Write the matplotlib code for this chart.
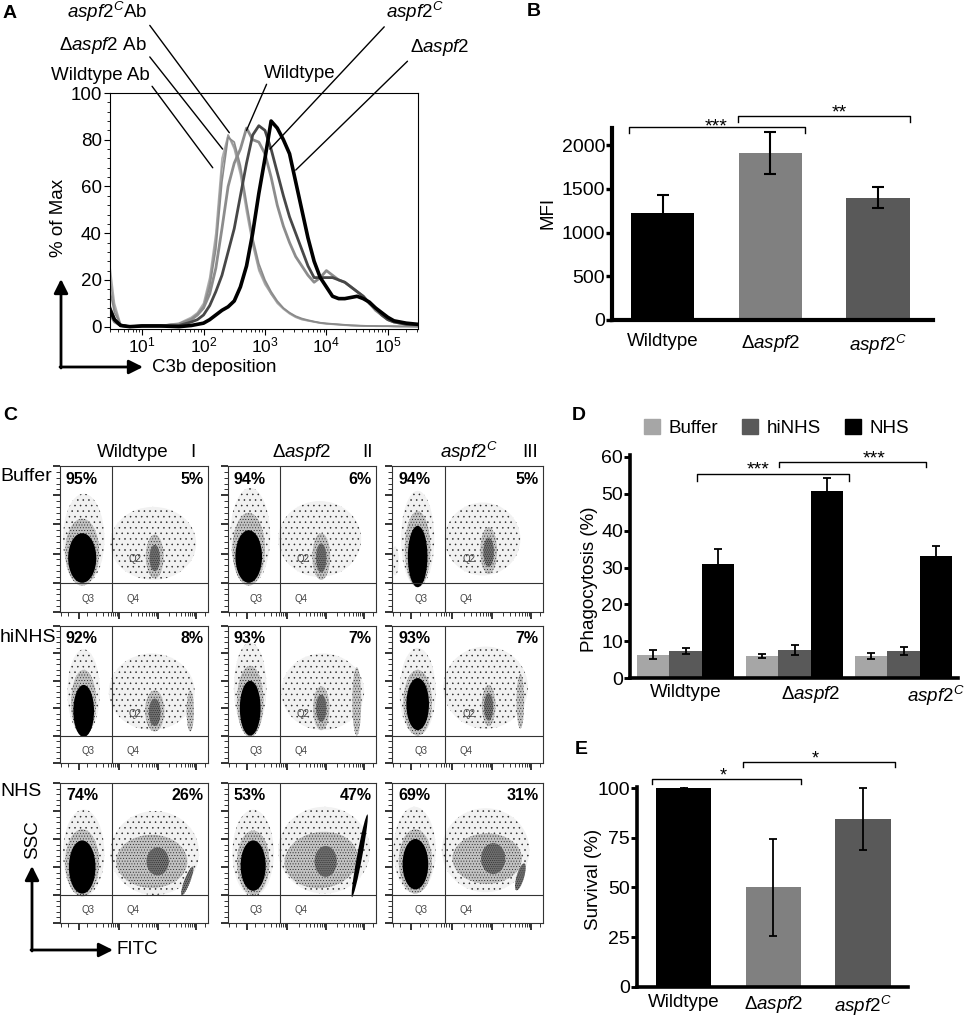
import matplotlib
matplotlib.use("Agg")
import matplotlib.pyplot as plt
import numpy as np
from matplotlib.patches import Ellipse, Patch
from matplotlib.ticker import MultipleLocator, LogLocator, FixedLocator, NullFormatter

W, H = 965, 1019

plt.rcParams["font.family"] = ["Liberation Sans", "DejaVu Sans"]
plt.rcParams["mathtext.fontset"] = "custom"
plt.rcParams["mathtext.rm"] = "Liberation Sans"
plt.rcParams["mathtext.it"] = "Liberation Sans:italic"
plt.rcParams["mathtext.bf"] = "Liberation Sans:bold"
plt.rcParams["hatch.linewidth"] = 0.35

DELTA = r"$\Delta\mathit{aspf2}$"
COMP = r"$\mathit{aspf2}^{\mathit{C}}$"
STRAINS = ["Wildtype", DELTA, COMP]

# ---- panel A: C3b deposition histograms (% of max vs log10 intensity)
A_LOGX = [0.48, 0.55, 0.65, 0.8, 1.0, 1.3, 1.6, 1.8, 1.9,
          2.0, 2.1, 2.2, 2.3, 2.4, 2.5, 2.6, 2.7, 2.8, 2.9,
          3.0, 3.1, 3.2, 3.3, 3.4, 3.5, 3.6, 3.7, 3.8, 3.9,
          4.0, 4.1, 4.2, 4.3, 4.4, 4.5, 4.6, 4.7, 4.8, 4.9,
          5.0, 5.1, 5.2, 5.3, 5.49]
A_WT_AB = [25, 10, 1, 0, 0.5, 0.5, 1.5, 4, 6,
           10, 21, 40, 72, 82, 76, 65, 49, 35, 24,
           18, 14, 10, 7.5, 5.5, 4, 3, 2.5, 2, 1.5,
           1.2, 1, 0.8, 0.6, 0.5, 0.4, 0.3, 0.3, 0.2, 0.2,
           0.2, 0.1, 0.1, 0.1, 0]
A_DA_AB = [15, 6, 1, 0, 0.5, 0.5, 1.2, 3, 5,
           8, 17, 33, 62, 81, 79, 69, 53, 38, 27,
           20, 15, 11, 8, 6, 4.5, 3.5, 2.8, 2.2, 1.7,
           1.4, 1.2, 1, 0.8, 0.6, 0.5, 0.4, 0.3, 0.3, 0.2,
           0.2, 0.2, 0.1, 0.1, 0]
A_C_AB = [20, 8, 1, 0, 0.5, 0.5, 1.3, 3.5, 5.5,
          9, 19, 37, 68, 82, 77, 67, 51, 36, 25,
          19, 14, 10.5, 7.8, 5.8, 4.2, 3.2, 2.6, 2.1, 1.6,
          1.3, 1.1, 0.9, 0.7, 0.5, 0.4, 0.3, 0.3, 0.2, 0.2,
          0.2, 0.1, 0.1, 0.1, 0]
A_WT = [5, 2, 0.5, 0, 0.3, 0.3, 1, 3, 5,
        8, 14, 25, 42, 60, 70, 76, 85, 80, 79,
        74, 64, 52, 43, 36, 30, 26, 22, 19, 21,
        24, 22, 20, 19, 17, 15, 13, 10, 7, 5,
        3, 2, 1.5, 1, 0.8]
A_C = [8, 3, 0.5, 0, 0.3, 0.3, 0.5, 2, 3,
       5, 9, 15, 22, 32, 42, 56, 70, 82, 86,
       84, 76, 66, 56, 47, 40, 33, 26, 21, 21,
       21, 21, 20, 19, 17, 15, 13, 10, 8, 5,
       3, 2, 1.5, 1, 0.8]
A_DA = [7, 3, 0.5, 0, 0.3, 0.3, 0, 0.5, 1,
        1.5, 3, 5, 7, 8.5, 11, 17, 26, 40, 57,
        72, 88, 85, 80, 74, 62, 50, 38, 28, 21,
        17, 13, 12, 12, 12.5, 13, 12, 10.5, 8, 6,
        4, 2.5, 2, 1.5, 1]
A_LABELS = [COMP + "Ab", DELTA + " Ab", "Wildtype Ab", "Wildtype", COMP, DELTA]
# where each leader line touches the plot (log10 x, % of max)
A_LABEL_LOGX = [2.42, 2.31, 2.15, 2.70, 3.08, 3.50]
A_LABEL_Y = [83, 76, 68, 84, 76, 67]

# ---- panel B: MFI
B_MFI = [1220, 1910, 1400]
B_ERR = [210, 240, 125]

# ---- panel C: flow plots, percentages per row (Buffer, hiNHS, NHS) and column
C_ROWS = ["Buffer", "hiNHS", "NHS"]
C_COL_NUM = ["I", "II", "III"]
C_PCT_LEFT = [[95, 94, 94], [92, 93, 93], [74, 53, 69]]
C_PCT_RIGHT = [[5, 6, 5], [8, 7, 7], [26, 47, 31]]
# event clouds: (x, y, width, height, tilt, density 1..4) in gate-fraction units
BUF_WT = [(0.16, 0.50, 0.28, 0.62, 0, 1), (0.15, 0.41, 0.23, 0.46, 0, 2),
          (0.15, 0.37, 0.19, 0.34, 0, 4), (0.63, 0.47, 0.58, 0.50, 0, 1),
          (0.64, 0.38, 0.12, 0.30, 0, 2), (0.64, 0.37, 0.07, 0.18, 0, 3)]
BUF_DA = [(0.15, 0.52, 0.27, 0.66, 0, 1), (0.14, 0.43, 0.22, 0.50, 0, 2),
          (0.14, 0.38, 0.18, 0.36, 0, 4), (0.62, 0.50, 0.56, 0.52, 0, 1),
          (0.63, 0.38, 0.12, 0.32, 0, 2), (0.63, 0.37, 0.07, 0.20, 0, 3)]
BUF_C = [(0.17, 0.50, 0.22, 0.66, 0, 1), (0.17, 0.43, 0.17, 0.52, 0, 2),
         (0.17, 0.38, 0.13, 0.42, 0, 4), (0.02, 0.35, 0.05, 0.20, 0, 1),
         (0.60, 0.50, 0.50, 0.50, 0, 1), (0.64, 0.42, 0.11, 0.32, 0, 2),
         (0.64, 0.41, 0.07, 0.20, 0, 3)]
HI_WT = [(0.16, 0.52, 0.22, 0.62, 0, 1), (0.16, 0.44, 0.17, 0.48, 0, 2),
         (0.16, 0.38, 0.14, 0.38, 0, 4), (0.62, 0.52, 0.58, 0.56, 0, 1),
         (0.64, 0.38, 0.13, 0.30, 0, 2), (0.64, 0.37, 0.08, 0.20, 0, 3),
         (0.88, 0.38, 0.05, 0.30, 0, 2)]
HI_DA = [(0.15, 0.55, 0.22, 0.66, 0, 1), (0.15, 0.45, 0.18, 0.52, 0, 2),
         (0.15, 0.40, 0.14, 0.40, 0, 4), (0.64, 0.52, 0.56, 0.56, 0, 1),
         (0.63, 0.40, 0.11, 0.32, 0, 2), (0.63, 0.40, 0.07, 0.20, 0, 3),
         (0.87, 0.45, 0.06, 0.50, 0, 2)]
HI_C = [(0.17, 0.52, 0.24, 0.64, 0, 1), (0.17, 0.44, 0.19, 0.48, 0, 2),
        (0.17, 0.43, 0.15, 0.38, 0, 4), (0.62, 0.55, 0.56, 0.60, 0, 1),
        (0.64, 0.42, 0.09, 0.30, 0, 2), (0.64, 0.41, 0.06, 0.20, 0, 3),
        (0.85, 0.45, 0.05, 0.40, 0, 2)]
NHS_WT = [(0.16, 0.50, 0.28, 0.62, 0, 1), (0.15, 0.43, 0.23, 0.48, 0, 2),
          (0.15, 0.40, 0.18, 0.38, 0, 4), (0.64, 0.50, 0.60, 0.60, 0, 1),
          (0.62, 0.44, 0.48, 0.38, 0, 2), (0.66, 0.44, 0.15, 0.20, 0, 3),
          (0.86, 0.30, 0.04, 0.22, -20, 3)]
NHS_DA = [(0.17, 0.50, 0.28, 0.62, 0, 1), (0.17, 0.43, 0.22, 0.46, 0, 2),
          (0.17, 0.41, 0.17, 0.36, 0, 4), (0.65, 0.52, 0.62, 0.62, 0, 1),
          (0.63, 0.45, 0.50, 0.40, 10, 2), (0.66, 0.44, 0.15, 0.22, 0, 3),
          (0.89, 0.48, 0.035, 0.60, -10, 4)]
NHS_C = [(0.15, 0.52, 0.28, 0.62, 0, 1), (0.155, 0.44, 0.22, 0.46, 0, 2),
         (0.155, 0.42, 0.17, 0.36, 0, 4), (0.62, 0.52, 0.58, 0.60, 0, 1),
         (0.63, 0.46, 0.46, 0.36, 0, 2), (0.67, 0.46, 0.16, 0.22, 0, 3),
         (0.85, 0.33, 0.05, 0.20, -15, 3)]
C_CLOUDS = [[BUF_WT, BUF_DA, BUF_C], [HI_WT, HI_DA, HI_C], [NHS_WT, NHS_DA, NHS_C]]

# ---- panel D: phagocytosis (%)
D_GROUPS = ["Buffer", "hiNHS", "NHS"]
D_BUFFER = [6.4, 6.0, 6.0]
D_BUFFER_ERR = [1.2, 0.6, 0.9]
D_HINHS = [7.3, 7.7, 7.4]
D_HINHS_ERR = [0.8, 1.3, 1.0]
D_NHS = [31.0, 50.7, 33.2]
D_NHS_ERR = [3.9, 3.5, 2.6]

# ---- panel E: survival (%)
E_SURV = [100, 50, 84.5]
E_ERR = [0.3, 24.6, 15.5]

BAR3 = ["#000000", "#808080", "#595959"]
FS = 13.5


def px_axes(fig, l, t, r, b):
    return fig.add_axes([l / W, 1 - b / H, (r - l) / W, (b - t) / H])


def fpx(x, y):
    return (x / W, 1 - y / H)


def bar_style(ax, lw=3.0):
    for s in ("top", "right"):
        ax.spines[s].set_visible(False)
    for s in ("left", "bottom"):
        ax.spines[s].set_linewidth(lw)
    ax.tick_params(axis="y", direction="out", length=4, width=lw * 0.8,
                   labelsize=14, pad=1)
    ax.tick_params(axis="x", length=0, labelsize=FS)


def bracket(ax, x0, x1, y, drop, label, lx, ly, size=14):
    ax.plot([x0, x0, x1, x1], [y - drop, y, y, y - drop], color="k",
            lw=1.0, clip_on=False)
    ax.text(lx, ly, label, ha="center", va="baseline", fontsize=size,
            clip_on=False)


def arrow(fig, x0, y0, x1, y1):
    fig.add_artist(matplotlib.patches.FancyArrowPatch(
        fpx(x0, y0), fpx(x1, y1), transform=fig.transFigure,
        arrowstyle="-|>,head_length=0.6,head_width=0.3", mutation_scale=14,
        lw=2, color="k", shrinkA=0, shrinkB=0))


fig = plt.figure(figsize=(W / 100, H / 100), dpi=100)

# ================= A
axA = px_axes(fig, 110, 93, 418, 329)
ax_x = 10 ** np.array(A_LOGX)
curves = [(A_WT_AB, "#b0b0b0", 1.2), (A_C_AB, "#9a9a9a", 1.2),
          (A_DA_AB, "#8a8a8a", 1.2), (A_WT, "#8c8c8c", 2.0),
          (A_C, "#474747", 2.0), (A_DA, "#000000", 2.6)]
for yv, col, lw in curves:
    axA.plot(ax_x, yv, color=col, lw=lw)
axA.set_xscale("log")
axA.set_xlim(3, 3.1e5)
axA.set_ylim(-1, 100)
axA.set_yticks([0, 20, 40, 60, 80, 100])
axA.yaxis.set_minor_locator(MultipleLocator(4))
axA.xaxis.set_major_locator(LogLocator(base=10, numticks=10))
axA.xaxis.set_minor_locator(LogLocator(base=10, subs=np.arange(2, 10), numticks=10))
axA.xaxis.set_minor_formatter(NullFormatter())
axA.tick_params(which="major", direction="out", length=4, width=0.8,
                labelsize=FS, pad=2)
axA.tick_params(axis="x", which="major", labelsize=12.5, pad=1)
axA.tick_params(which="minor", direction="out", length=2, width=0.6)
for s in axA.spines.values():
    s.set_linewidth(0.8)
axA.set_ylabel("% of Max", fontsize=FS)
axA.yaxis.set_label_coords(-0.14, 0.47)

# leader lines to each curve
A_TEXT_POS = [(147, 12, "right", (1.0, 0.1)), (147, 45, "right", (1.0, 0.1)),
              (150, 75, "right", (1.0, 0.0)), (300, 73, "center", (0.05, 0.0)),
              (415, 12, "center", (0.05, 0.1)), (440, 48, "center", (0.0, 0.0))]
for lab, lx, ly, (tx, ty, ha, rel) in zip(A_LABELS, A_LABEL_LOGX, A_LABEL_Y, A_TEXT_POS):
    axA.annotate(lab, xy=(10 ** lx, ly), xycoords="data",
                 xytext=(tx, H - ty), textcoords="figure pixels",
                 ha=ha, va="center", fontsize=FS, annotation_clip=False,
                 arrowprops=dict(arrowstyle="-", lw=1.0, color="k",
                                 relpos=rel, shrinkA=0, shrinkB=0))
arrow(fig, 61, 368, 61, 279)
arrow(fig, 60, 367, 143, 367)
fig.text(*fpx(152, 367), "C3b deposition", fontsize=FS, va="center")

# ================= B
axB = px_axes(fig, 612, 127.5, 933, 320)
xb = np.arange(3)
axB.bar(xb, B_MFI, width=0.59, color=BAR3)
axB.errorbar(xb, B_MFI, yerr=B_ERR, fmt="none", ecolor="k", elinewidth=1.5,
             capsize=4, capthick=1.5)
axB.set_xlim(-0.47, 2.51)
axB.set_ylim(0, 2200)
axB.set_yticks([0, 500, 1000, 1500, 2000])
axB.set_xticks(xb)
axB.set_xticklabels(STRAINS)
bar_style(axB, 3.0)
axB.tick_params(axis="x", pad=9)
bracket(axB, -0.31, 1.32, 2206, 69, "***", 0.50, 2160)
bracket(axB, 0.70, 2.30, 2331, 68, "**", 1.64, 2320)
fig.text(*fpx(548, 213), "MFI", rotation=90, fontsize=FS, ha="center", va="center")

# ================= C
C_COLS = [(60, 208), (228, 376), (392, 543)]
C_ROWS_PX = [(466, 612), (626, 763), (783, 923)]
GATE_X, GATE_Y = 0.35, 0.2
CLOUD_FILL = {1: "#f1f1f1", 2: "#c2c2c2", 3: "#707070"}
CLOUD_HATCH = {1: "...", 2: "......", 3: "........"}
lin_ticks = [0.007, 0.056, 0.128, 0.184, 0.24, 0.29]
log_ticks = [d + 0.26 * np.log10(k) for d in (0.14, 0.40, 0.66) for k in range(1, 10)]
fitc_ticks = lin_ticks + [t for t in log_ticks if 0.31 < t < 0.93] + [0.98]
fitc_major = [0.128, 0.40, 0.66, 0.92]

for r, (top, bot) in enumerate(C_ROWS_PX):
    for c, (lft, rgt) in enumerate(C_COLS):
        ax = px_axes(fig, lft, top, rgt, bot)
        ax.set_xlim(0, 1)
        ax.set_ylim(0, 1)
        for (cx, cy, w, h, ang, dens) in C_CLOUDS[r][c]:
            if dens == 4:
                e = Ellipse((cx, cy), w, h, angle=ang, facecolor="k",
                            edgecolor="none")
            else:
                e = Ellipse((cx, cy), w, h, angle=ang, facecolor=CLOUD_FILL[dens],
                            edgecolor="#222222", lw=0, hatch=CLOUD_HATCH[dens])
            ax.add_patch(e)
        ax.axvline(GATE_X, color="#333333", lw=0.8)
        ax.axhline(GATE_Y, color="#333333", lw=0.8)
        for s in ax.spines.values():
            s.set_linewidth(0.8)
            s.set_color("#333333")
        ax.text(0.04, 0.91, f"{C_PCT_LEFT[r][c]}%", transform=ax.transAxes,
                fontsize=11.5, fontweight="bold", ha="left", va="center")
        ax.text(0.97, 0.91, f"{C_PCT_RIGHT[r][c]}%", transform=ax.transAxes,
                fontsize=11.5, fontweight="bold", ha="right", va="center")
        if r < 2:
            ax.text(0.51, 0.36, "Q2", fontsize=7, color="#444444",
                    ha="center", va="center")
        ax.text(0.19, 0.09, "Q3", fontsize=7, color="#444444", ha="center", va="center")
        ax.text(0.49, 0.09, "Q4", fontsize=7, color="#444444", ha="center", va="center")
        ax.xaxis.set_major_locator(FixedLocator(fitc_major))
        ax.xaxis.set_minor_locator(FixedLocator(fitc_ticks))
        ax.yaxis.set_major_locator(MultipleLocator(0.2))
        ax.yaxis.set_minor_locator(MultipleLocator(0.04))
        ax.tick_params(which="both", direction="out", labelbottom=False,
                       labelleft=False, color="#333333")
        ax.tick_params(which="major", length=5, width=1.4)
        ax.tick_params(which="minor", length=3, width=0.7)

C_TITLE_X = [(133, 193), (302, 368), (469, 530)]
for (tx, nx), name, num in zip(C_TITLE_X, STRAINS, C_COL_NUM):
    fig.text(*fpx(tx, 452), name, fontsize=FS, ha="center", va="center")
    fig.text(*fpx(nx, 452), num, fontsize=FS, ha="center", va="center")
for name, y in zip(C_ROWS, (477, 638, 791)):
    fig.text(*fpx(0, y), name, fontsize=14, ha="left", va="center")
arrow(fig, 32, 951, 32, 866)
arrow(fig, 31, 950, 113, 950)
fig.text(*fpx(33, 840), "SSC", rotation=90, fontsize=FS, ha="center", va="center")
fig.text(*fpx(117, 950), "FITC", fontsize=FS, ha="left", va="center")

# ================= D
axD = px_axes(fig, 630, 455, 958, 678.3)
bw = 0.297
xd = np.arange(3)
for off, vals, errs, col in [(-bw, D_BUFFER, D_BUFFER_ERR, "#a6a6a6"),
                             (0, D_HINHS, D_HINHS_ERR, "#595959"),
                             (bw, D_NHS, D_NHS_ERR, "#000000")]:
    axD.bar(xd + off, vals, width=bw, color=col)
    axD.errorbar(xd + off, vals, yerr=errs, fmt="none", ecolor="k",
                 elinewidth=1.3, capsize=3, capthick=1.3)
axD.set_xlim(-0.51, 2.5)
axD.set_ylim(0, 60.5)
axD.set_yticks(range(0, 61, 10))
axD.set_xticks([0, 1.15, 2.3])
axD.set_xticklabels(STRAINS)
bar_style(axD, 2.6)
axD.tick_params(axis="x", pad=4)
bracket(axD, 0.105, 1.5, 55.3, 1.9, "***", 0.665, 55.3)
bracket(axD, 0.858, 2.206, 58.6, 1.4, "***", 1.73, 58.3)
fig.text(*fpx(590, 579), "Phagocytosis (%)", rotation=90, fontsize=FS,
         ha="center", va="center")
handles = [Patch(color=c) for c in ("#a6a6a6", "#595959", "#000000")]
fig.legend(handles, D_GROUPS, loc="center left", bbox_to_anchor=fpx(644, 428),
           ncol=3, frameon=False, fontsize=FS, handlelength=0.85,
           handleheight=0.9, handletextpad=0.45, columnspacing=1.3,
           borderpad=0, borderaxespad=0)

# ================= E
axE = px_axes(fig, 637, 786.5, 908, 986.7)
xe = np.arange(3)
axE.bar(xe, E_SURV, width=0.62, color=BAR3)
axE.errorbar(xe, E_SURV, yerr=E_ERR, fmt="none", ecolor="k", elinewidth=1.3,
             capsize=3, capthick=1.3)
axE.set_xlim(-0.52, 2.5)
axE.set_ylim(0, 100.8)
axE.set_yticks([0, 25, 50, 75, 100])
axE.set_xticks(xe)
axE.set_xticklabels(STRAINS)
bar_style(axE, 2.6)
axE.tick_params(axis="x", pad=5)
bracket(axE, -0.35, 1.31, 104.7, 2.5, "*", 0.44, 103.7, size=13)
bracket(axE, 0.66, 2.35, 113.3, 2.5, "*", 1.465, 112.3, size=13)
fig.text(*fpx(593, 879), "Survival (%)", rotation=90, fontsize=FS,
         ha="center", va="center")

# panel letters
for letter, x, y in [("A", 3, 14), ("B", 527, 12), ("C", 3, 415),
                     ("D", 572, 415), ("E", 575, 749)]:
    fig.text(*fpx(x, y), letter, fontsize=14, fontweight="bold",
             ha="left", va="center")

fig.savefig("out.png", dpi=100)
